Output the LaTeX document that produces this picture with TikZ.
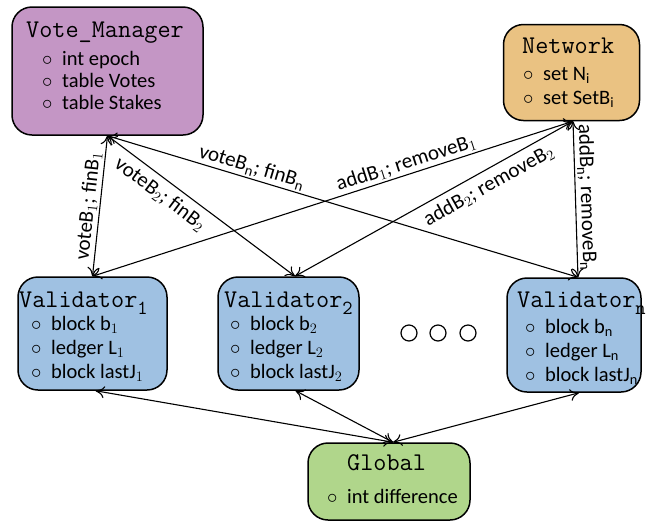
\documentclass[tikz,border=0pt]{standalone}
\usepackage{fontspec}
\usetikzlibrary{arrows.meta,calc}
\newfontfamily\carl{Carlito}
\definecolor{vmcol}{RGB}{196,150,197}
\definecolor{netcol}{RGB}{234,194,130}
\definecolor{valcol}{RGB}{159,193,226}
\definecolor{glcol}{RGB}{176,214,139}
\newcommand{\itm}[1]{\makebox[20pt][l]{$\circ$}#1}
\newcommand{\tsub}[1]{\raisebox{-7pt}{\fontsize{20}{20}\selectfont #1}}
\begin{document}
\begin{tikzpicture}[x=1pt,y=-1pt,
  box/.style={draw=black, line width=1.5pt, rounded corners=20pt, inner sep=0pt},
  ttl/.style={anchor=base west, inner sep=0pt, font=\ttfamily\fontsize{25.5}{30}\selectfont},
  itm/.style={anchor=base west, inner sep=0pt, font=\carl\fontsize{20.5}{24}\selectfont},
  lbl/.style={font=\carl\fontsize{21}{24}\selectfont, sloped, inner sep=2pt},
  arr/.style={line width=1.1pt, {To[length=9pt,width=12pt]}-{To[length=9pt,width=12pt]}},
  dotc/.style={circle, draw=black, line width=1.2pt, minimum size=16pt, inner sep=0pt}]
\useasboundingbox (0,0) rectangle (648,523);

% boxes
\node[box, fill=vmcol, minimum width=191pt, minimum height=128pt] (vm) at (107.5,71) {};
\node[box, fill=netcol, minimum width=136pt, minimum height=96pt] (net) at (571.5,72.5) {};
\node[box, fill=valcol, minimum width=149pt, minimum height=113pt] (v1) at (92.5,333.5) {};
\node[box, fill=valcol, minimum width=141pt, minimum height=113pt] (v2) at (288.5,333.5) {};
\node[box, fill=valcol, minimum width=134pt, minimum height=114pt] (vn) at (574,335) {};
\node[box, fill=glcol, minimum width=162pt, minimum height=77pt] (gl) at (389,481.5) {};

% titles
\node[ttl] (vmt) at (26,37) {Vote\_Manager};
\node[ttl] (nett) at (522,53) {Network};
\node[ttl] (v1t) at (19,307) {Validator\tsub{1}};
\node[ttl] (v2t) at (224,307) {Validator\tsub{2}};
\node[ttl] (vnt) at (517,307) {Validator\tsub{n}};
\node[ttl] (glt) at (347,470) {Global};

% items
\node[itm] (vm1) at (42,65) {\itm{int epoch}};
\node[itm] (vm2) at (42,87) {\itm{table Votes}};
\node[itm] (vm3) at (42,109) {\itm{table Stakes}};
\node[itm] (net1) at (523,80) {\itm{set N\textsubscript{i}}};
\node[itm] (net2) at (523,104) {\itm{set SetB\textsubscript{i}}};
\node[itm] (v11) at (31,330) {\itm{block b$_1$}};
\node[itm] (v12) at (31,354) {\itm{ledger L$_1$}};
\node[itm] (v13) at (31,378) {\itm{block lastJ$_1$}};
\node[itm] (v21) at (230,330) {\itm{block b$_2$}};
\node[itm] (v22) at (230,354) {\itm{ledger L$_2$}};
\node[itm] (v23) at (230,378) {\itm{block lastJ$_2$}};
\node[itm] (vn1) at (525,333) {\itm{block b\textsubscript{n}}};
\node[itm] (vn2) at (525,357) {\itm{ledger L\textsubscript{n}}};
\node[itm] (vn3) at (525,381) {\itm{block lastJ\textsubscript{n}}};
\node[itm] (gl1) at (327,503) {\itm{int difference}};

% dots
\node[dotc] (d1) at (409,333) {};
\node[dotc] (d2) at (438,333) {};
\node[dotc] (d3) at (468,333) {};

% anchor coordinates
\coordinate (vmB) at (vm.south);
\coordinate (netS) at ([xshift=1.5pt]net.south);
\coordinate (v1N) at (v1.north);
\coordinate (v2N) at ([xshift=6.5pt]v2.north);
\coordinate (vnN) at ([xshift=4pt]vn.north);
\coordinate (v1S) at ([xshift=3pt]v1.south);
\coordinate (v2S) at ([xshift=7pt]v2.south);
\coordinate (vnS) at ([xshift=5pt]vn.south);
\coordinate (glN) at ([xshift=4pt]gl.north);

% connectors
\draw[arr] (v1N) -- node[lbl, above, pos=0.49] {voteB$_1$; finB$_1$} (vmB);
\draw[arr] (vmB) -- node[lbl, below=4pt, pos=0.33] {voteB$_2$; finB$_2$} (v2N);
\draw[arr] (vmB) -- node[lbl, above, pos=0.3] {voteB\textsubscript{n}; finB\textsubscript{n}} (vnN);
\draw[arr] (v1N) -- node[lbl, above, pos=0.66] {addB$_1$; removeB$_1$} (netS);
\draw[arr] (v2N) -- node[lbl, below=4pt, pos=0.67] {addB$_2$; removeB$_2$} (netS);
\draw[arr] (netS) -- node[lbl, above, pos=0.49] {addB\textsubscript{n}; removeB\textsubscript{n}} (vnN);
\draw[arr] (v1S) -- (glN);
\draw[arr] (v2S) -- (glN);
\draw[arr] (vnS) -- (glN);
\end{tikzpicture}
\end{document}
